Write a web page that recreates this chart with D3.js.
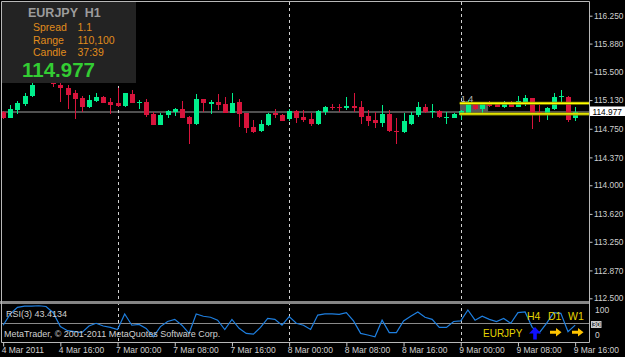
<!DOCTYPE html>
<html>
<head>
<meta charset="utf-8">
<script src="https://cdn.jsdelivr.net/npm/d3@7"></script>
<style>
    body { margin: 0; background: #000; }
    svg { display: block; }
    text { font-family: "Liberation Sans", Arial, sans-serif; }
</style>
</head>
<body>
<div id="chart"></div>
<script>
(function() {

    // EURJPY H1, bars from 4 Mar 08:00 to 9 Mar 16:00
    var openP = [114.976, 114.897, 114.999, 115.075, 115.185, 115.357, 115.450, 115.397, 115.335, 115.295,
        115.229, 115.162, 115.039, 115.118, 115.172, 115.105, 115.088, 115.052, 115.215, 115.101,
        115.109, 114.946, 114.800, 114.929, 114.976, 115.012, 114.910, 114.809, 115.141, 115.082,
        115.105, 115.075, 114.955, 115.101, 114.955, 114.778, 114.720, 114.800, 114.955, 114.937,
        114.876, 114.990, 114.910, 114.880, 114.813, 114.976, 115.039, 115.043, 115.030, 115.052,
        115.039, 114.919, 114.866, 114.831, 114.946, 114.720, 114.707, 114.813, 114.929, 115.043,
        114.976, 114.990, 114.889, 114.897, 114.933, 114.955, 115.088, 115.008, 115.088, 115.075,
        115.043, 115.088, 115.043, 115.109, 115.158, 114.976, 114.955, 115.008, 115.168, 115.176,
        114.889];
    var highP = [114.986, 115.065, 115.118, 115.229, 115.351, 115.503, 115.530, 115.424, 115.351, 115.331,
        115.264, 115.189, 115.198, 115.225, 115.185, 115.162, 115.295, 115.229, 115.264, 115.136,
        115.149, 114.976, 114.955, 114.999, 115.022, 115.118, 114.919, 115.211, 115.149, 115.132,
        115.211, 115.172, 115.221, 115.145, 114.963, 114.866, 114.866, 114.955, 115.012, 114.942,
        115.012, 114.999, 114.999, 114.963, 114.999, 115.052, 115.079, 115.075, 115.176, 115.229,
        115.118, 114.999, 114.976, 115.065, 114.999, 114.889, 114.963, 114.976, 115.101, 115.075,
        115.079, 114.999, 114.968, 114.955, 114.999, 115.132, 115.109, 115.096, 115.118, 115.096,
        115.118, 115.118, 115.185, 115.198, 115.158, 115.065, 115.043, 115.221, 115.264, 115.185,
        115.035];
    var lowP = [114.880, 114.893, 114.946, 115.052, 115.172, 115.357, 115.371, 115.304, 115.109, 115.008,
        114.876, 114.968, 115.022, 115.109, 115.092, 114.946, 115.043, 115.043, 115.088, 115.012,
        114.910, 114.796, 114.800, 114.897, 114.919, 114.897, 114.548, 114.800, 114.968, 114.942,
        114.999, 114.955, 114.955, 114.778, 114.690, 114.690, 114.711, 114.787, 114.897, 114.853,
        114.857, 114.823, 114.844, 114.787, 114.800, 114.933, 114.999, 114.976, 114.999, 114.976,
        114.809, 114.791, 114.756, 114.778, 114.711, 114.548, 114.698, 114.800, 114.910, 114.955,
        114.889, 114.889, 114.813, 114.889, 114.866, 114.946, 114.999, 114.955, 115.043, 115.035,
        115.030, 115.035, 115.035, 115.056, 114.747, 114.844, 114.866, 114.999, 115.088, 114.844,
        114.857];
    var closeP = [114.889, 115.012, 115.088, 115.189, 115.331, 115.450, 115.397, 115.344, 115.287, 115.198,
        115.145, 115.039, 115.136, 115.172, 115.096, 115.069, 115.052, 115.221, 115.096, 115.109,
        114.933, 114.800, 114.933, 114.990, 115.012, 114.897, 114.813, 115.149, 115.088, 115.105,
        115.065, 114.955, 115.096, 114.946, 114.764, 114.711, 114.813, 114.942, 114.933, 114.857,
        114.990, 114.889, 114.866, 114.813, 114.990, 115.043, 115.030, 115.030, 115.052, 115.030,
        114.910, 114.857, 114.823, 114.946, 114.720, 114.707, 114.853, 114.933, 115.043, 114.968,
        114.990, 114.902, 114.910, 114.950, 114.986, 115.088, 115.008, 115.075, 115.056, 115.043,
        115.096, 115.043, 115.118, 115.154, 114.955, 114.963, 115.030, 115.176, 115.185, 114.866,
        114.977];

    // RSI(3)
    var rsiValues = [43, 72, 89, 92, 92, 93, 91, 75, 39.5, 29,
        26.5, 24, 41, 48, 41, 37.5, 32, 72, 43, 45,
        35, 13.5, 39.5, 52.5, 58, 43, 22, 72, 66, 63.5,
        56, 32, 58, 35, 22, 20, 37.5, 60.5, 58, 43,
        65, 48, 43, 32, 69, 72, 72, 71, 75.5, 54,
        22, 18, 13.5, 56, 24, 24, 54, 66, 77, 63.5,
        58, 37.5, 37.5, 52.5, 54, 82, 56, 66, 58, 52.5,
        60.5, 48, 75.5, 77, 37.5, 24, 48, 75.5, 73.5, 26.5,
        43.4134];
    var rsiLevel = 50;

    var priceTicks = [116.25, 115.88, 115.5, 115.13, 114.75, 114.37, 114.0, 113.62, 113.25, 112.87, 112.5];
    var timeTickBars = [0, 8, 16, 24, 32, 40, 48, 56, 64, 72, 80];
    var timeTickLabels = ["4 Mar 2011", "4 Mar 16:00", "7 Mar 00:00", "7 Mar 08:00", "7 Mar 16:00",
        "8 Mar 00:00", "8 Mar 08:00", "8 Mar 16:00", "9 Mar 00:00", "9 Mar 08:00", "9 Mar 16:00"];
    var daySeparatorBars = [16, 40, 64];

    var bidPrice = 114.977;
    var rangeHigh = 115.088, rangeLow = 114.946, rangeStartBar = 64, rangeShadeEndBar = 68;
    var infoLines = [["Spread", "1.1"], ["Range", "110,100"], ["Candle", "37:39"]];

    var
        W = 625, H = 357,
        axisX = 589.5,
        bull = "#00ee8c",
        bear = "#d8143c",
        svg = d3.select('#chart').append('svg').attr('width', W).attr('height', H),
        x = d3.scaleLinear().domain([0, 80]).range([3.15, 575.15]),
        y = d3.scaleLinear().domain([112.5, 116.25]).range([298.3, 15.7]),
        yRsi = d3.scaleLinear().domain([0, 100]).range([342, 303]);

    svg.append('rect').attr('width', W).attr('height', H).attr('fill', '#000');

    // bid line
    svg.append('line')
        .attr('x1', 2).attr('x2', axisX)
        .attr('y1', Math.round(y(bidPrice))).attr('y2', Math.round(y(bidPrice)))
        .attr('stroke', '#505050').attr('stroke-width', 2);

    // day separators
    svg.selectAll('line.sep')
        .data(daySeparatorBars)
        .enter()
        .append('line')
        .attr('class', 'sep')
        .attr('x1', function(d){ return Math.round(x(d)) + 0.5 })
        .attr('x2', function(d){ return Math.round(x(d)) + 0.5 })
        .attr('y1', 2).attr('y2', 342)
        .attr('stroke', '#d0d0d0')
        .attr('stroke-dasharray', '3,3');

    // shaded start of the range box
    svg.append('rect')
        .attr('x', x(rangeStartBar) - 0.75)
        .attr('width', x(rangeShadeEndBar) - x(rangeStartBar) - 0.5)
        .attr('y', y(rangeHigh))
        .attr('height', y(rangeLow) - y(rangeHigh))
        .attr('fill', '#5a5a5a');

    // candles
    var bars = svg.selectAll('g.bar')
        .data(d3.range(openP.length))
        .enter()
        .append('g')
        .attr('class', 'bar')
        .attr('shape-rendering', 'crispEdges');

    bars.append('line')
        .attr('x1', function(i){ return Math.round(x(i)) + 0.5 })
        .attr('x2', function(i){ return Math.round(x(i)) + 0.5 })
        .attr('y1', function(i){ return y(highP[i]) })
        .attr('y2', function(i){ return y(lowP[i]) })
        .attr('stroke', function(i){ return closeP[i] >= openP[i] ? bull : bear });

    bars.append('rect')
        .attr('x', function(i){ return Math.round(x(i)) - 2 })
        .attr('width', 5)
        .attr('y', function(i){ return Math.min(y(openP[i]), y(closeP[i])) })
        .attr('height', function(i){ return Math.max(1, Math.abs(y(openP[i]) - y(closeP[i]))) })
        .attr('fill', function(i){ return closeP[i] >= openP[i] ? bull : bear });

    // yellow range lines
    [rangeHigh, rangeLow].forEach(function(p) {
        svg.append('line')
            .attr('x1', x(rangeStartBar) - 1).attr('x2', axisX)
            .attr('y1', y(p)).attr('y2', y(p))
            .attr('stroke', '#8a8a00').attr('stroke-width', 3);
        svg.append('line')
            .attr('x1', x(rangeStartBar) - 1).attr('x2', axisX)
            .attr('y1', y(p)).attr('y2', y(p))
            .attr('stroke', '#ffff00').attr('stroke-width', 1.3);
    });
    svg.append('text')
        .attr('x', x(rangeStartBar)).attr('y', y(rangeHigh) - 1.5)
        .attr('font-size', 9).attr('fill', '#b8b8b8')
        .text('1.4');

    // info panel
    svg.append('rect')
        .attr('x', 2).attr('y', 2).attr('width', 134).attr('height', 81)
        .attr('fill', '#232323');
    svg.append('text')
        .attr('x', 28).attr('y', 16.7)
        .attr('font-family', 'DejaVu Sans').attr('font-weight', 'bold').attr('font-size', 12.5)
        .attr('fill', '#9c9c9c')
        .attr('xml:space', 'preserve')
        .text('EURJPY  H1');
    infoLines.forEach(function(l, i) {
        var t = svg.append('g').attr('font-family', 'DejaVu Sans').attr('font-size', 10.5).attr('fill', '#e08c1c');
        t.append('text').attr('x', 33).attr('y', 31 + i * 12.5).text(l[0]);
        t.append('text').attr('x', 77.5).attr('y', 31 + i * 12.5).text(l[1]);
    });
    svg.append('text')
        .attr('x', 22).attr('y', 77.3)
        .attr('font-family', 'DejaVu Sans').attr('font-weight', 'bold').attr('font-size', 20.5)
        .attr('fill', '#33cc33')
        .text(d3.format('.3f')(bidPrice));

    // separator between windows
    svg.append('rect').attr('x', 0).attr('y', 301).attr('width', axisX).attr('height', 3).attr('fill', '#858585');

    // RSI window
    svg.append('line')
        .attr('x1', 2).attr('x2', axisX)
        .attr('y1', Math.round(yRsi(rsiLevel)) + 0.5).attr('y2', Math.round(yRsi(rsiLevel)) + 0.5)
        .attr('stroke', '#8a8a8a');

    svg.append('path')
        .datum(rsiValues)
        .attr('fill', 'none')
        .attr('stroke', '#1e7fe0')
        .attr('stroke-width', 1.2)
        .attr('d', d3.line()
            .x(function(d, i){ return x(i) })
            .y(function(d){ return yRsi(d) }));

    svg.append('text')
        .attr('x', 6).attr('y', 316.5)
        .attr('font-size', 9).attr('fill', '#d0d0d0')
        .text('RSI(3) ' + d3.format('.4f')(rsiValues[rsiValues.length - 1]));
    svg.append('text')
        .attr('x', 4).attr('y', 337)
        .attr('font-size', 9).attr('fill', '#d0d0d0')
        .text('MetaTrader, \u00a9 2001-2011 MetaQuotes Software Corp.');

    var tfs = svg.append('g').attr('font-size', 10.5).attr('fill', '#e6d400');
    tfs.append('text').attr('x', 527).attr('y', 320).text('H4');
    tfs.append('text').attr('x', 548).attr('y', 320).text('D1');
    tfs.append('text').attr('x', 568).attr('y', 320).text('W1');
    tfs.append('text').attr('x', 483).attr('y', 337).attr('font-size', 10).text('EURJPY');

    svg.append('path')
        .attr('d', 'M535,327 L541,333.5 L536.8,333.5 L536.8,339.5 L533.2,339.5 L533.2,333.5 L529,333.5 Z')
        .attr('fill', '#1010ff');
    [550, 572].forEach(function(ax) {
        svg.append('path')
            .attr('d', 'M' + ax + ',330.7 L' + (ax + 6) + ',330.7 L' + (ax + 6) + ',328 L' + (ax + 11.5) + ',332.2 L' + (ax + 6) + ',336.4 L' + (ax + 6) + ',333.7 L' + ax + ',333.7 Z')
            .attr('fill', '#ffc400');
    });

    // frame
    svg.append('path')
        .attr('d', 'M1.5,342.5 L1.5,1.5 L' + axisX + ',1.5 L' + axisX + ',342.5 Z')
        .attr('fill', 'none').attr('stroke', '#b8b8b8');

    // price axis
    var priceAxis = svg.append('g')
        .attr('transform', 'translate(' + axisX + ',0)')
        .call(d3.axisRight(y).tickValues(priceTicks).tickFormat(d3.format('.3f')).tickSize(3).tickPadding(1.5));
    priceAxis.select('.domain').remove();
    priceAxis.selectAll('line').attr('stroke', '#c8c8c8');
    priceAxis.selectAll('text').attr('fill', '#d0d0d0').attr('font-size', 8.3).attr('font-family', '"Liberation Sans", Arial');

    svg.append('rect').attr('x', 590).attr('y', 106.5).attr('width', 35).attr('height', 9.5).attr('fill', '#fff');
    svg.append('text')
        .attr('x', 592.5).attr('y', 114.5)
        .attr('font-size', 8.3).attr('fill', '#000')
        .text(d3.format('.3f')(bidPrice));

    // RSI scale labels
    var rl = svg.append('g').attr('font-size', 8.5).attr('fill', '#d0d0d0');
    rl.append('text').attr('x', 595).attr('y', yRsi(100) + 10).text('100');
    rl.append('text').attr('x', 595).attr('y', yRsi(0) - 4).text('0');
    rl.append('rect')
        .attr('x', 591.5).attr('y', yRsi(rsiLevel) - 1).attr('width', 9.5).attr('height', 6)
        .attr('fill', '#505050').attr('stroke', '#c8c8c8');
    rl.append('text').attr('x', 592).attr('y', yRsi(rsiLevel) + 4.8).attr('font-size', 7.5).attr('fill', '#fff').text('30');

    // time axis
    var timeAxis = svg.append('g')
        .attr('transform', 'translate(0,342.5)')
        .call(d3.axisBottom(x).tickValues(timeTickBars)
            .tickFormat(function(d, i){ return timeTickLabels[i] })
            .tickSize(4).tickPadding(0));
    timeAxis.select('.domain').remove();
    timeAxis.selectAll('line').attr('stroke', '#c8c8c8');
    timeAxis.selectAll('text')
        .attr('text-anchor', 'start')
        .attr('dx', -2)
        .attr('fill', '#d0d0d0')
        .attr('font-size', 8.5)
        .attr('font-family', '"Liberation Sans", Arial');

})();
</script>
</body>
</html>
